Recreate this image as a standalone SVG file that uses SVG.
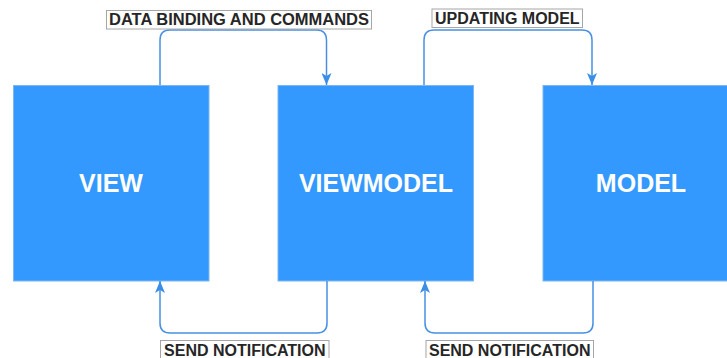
<svg xmlns="http://www.w3.org/2000/svg" width="727" height="358" viewBox="0 0 727 358">
  <style>
    .box { fill: #3399FF; stroke: #7DB6F0; stroke-width: 1; }
    .ntext { font-family: "Liberation Sans", Arial, sans-serif; font-size: 25px; font-weight: bold; fill: #FFFFFF; text-anchor: middle; }
    .edge { fill: none; stroke: #4A90E2; stroke-width: 1.5; }
    .lbox { fill: #FFFFFF; stroke: #A6A6A6; stroke-width: 1; }
    .ltext { font-family: "Liberation Sans", Arial, sans-serif; font-size: 16px; font-weight: bold; fill: #262626; text-anchor: middle; }
  </style>
  <defs>
    <marker id="arrow" viewBox="0 0 12 10" refX="12" refY="5" markerWidth="12" markerHeight="10" markerUnits="userSpaceOnUse" orient="auto">
      <path d="M0,0 L12,5 L0,10 L3,5 Z" fill="#3B8EE6"/>
    </marker>
  </defs>
  <rect width="727" height="358" fill="#FFFFFF"/>
  <g id="view">
    <rect class="box" x="13.5" y="85.5" width="195.5" height="195.5"/>
    <text class="ntext" x="111" y="192">VIEW</text>
  </g>
  <g id="viewmodel">
    <rect class="box" x="278" y="85.5" width="195.5" height="195.5"/>
    <text class="ntext" x="376" y="192">VIEWMODEL</text>
  </g>
  <g id="model">
    <rect class="box" x="543" y="85.5" width="195.5" height="195.5"/>
    <text class="ntext" x="641" y="192">MODEL</text>
  </g>
  <g id="connectors">
    <path class="edge" d="M160,85 V40 Q160,30 170,30 H316.5 Q326.5,30 326.5,40 V85" marker-end="url(#arrow)"/>
    <path class="edge" d="M424,85 V40 Q424,30 434,30 H582 Q592,30 592,40 V85" marker-end="url(#arrow)"/>
    <path class="edge" d="M327,281 V323 Q327,333 317,333 H170 Q160,333 160,323 V281" marker-end="url(#arrow)"/>
    <path class="edge" d="M593,281 V323 Q593,333 583,333 H435 Q425,333 425,323 V281" marker-end="url(#arrow)"/>
  </g>
  <g id="labels">
    <rect class="lbox" x="106.5" y="10.5" width="265" height="18.5"/>
    <text class="ltext" x="239" y="25" textLength="260" lengthAdjust="spacingAndGlyphs">DATA BINDING AND COMMANDS</text>
    <rect class="lbox" x="432" y="9" width="150.5" height="18.5"/>
    <text class="ltext" x="507.3" y="23.5">UPDATING MODEL</text>
    <rect class="lbox" x="160.5" y="340.5" width="168.5" height="18.5"/>
    <text class="ltext" x="244.8" y="355.5">SEND NOTIFICATION</text>
    <rect class="lbox" x="426" y="340.5" width="167.5" height="18.5"/>
    <text class="ltext" x="509.7" y="355.5">SEND NOTIFICATION</text>
  </g>
</svg>
